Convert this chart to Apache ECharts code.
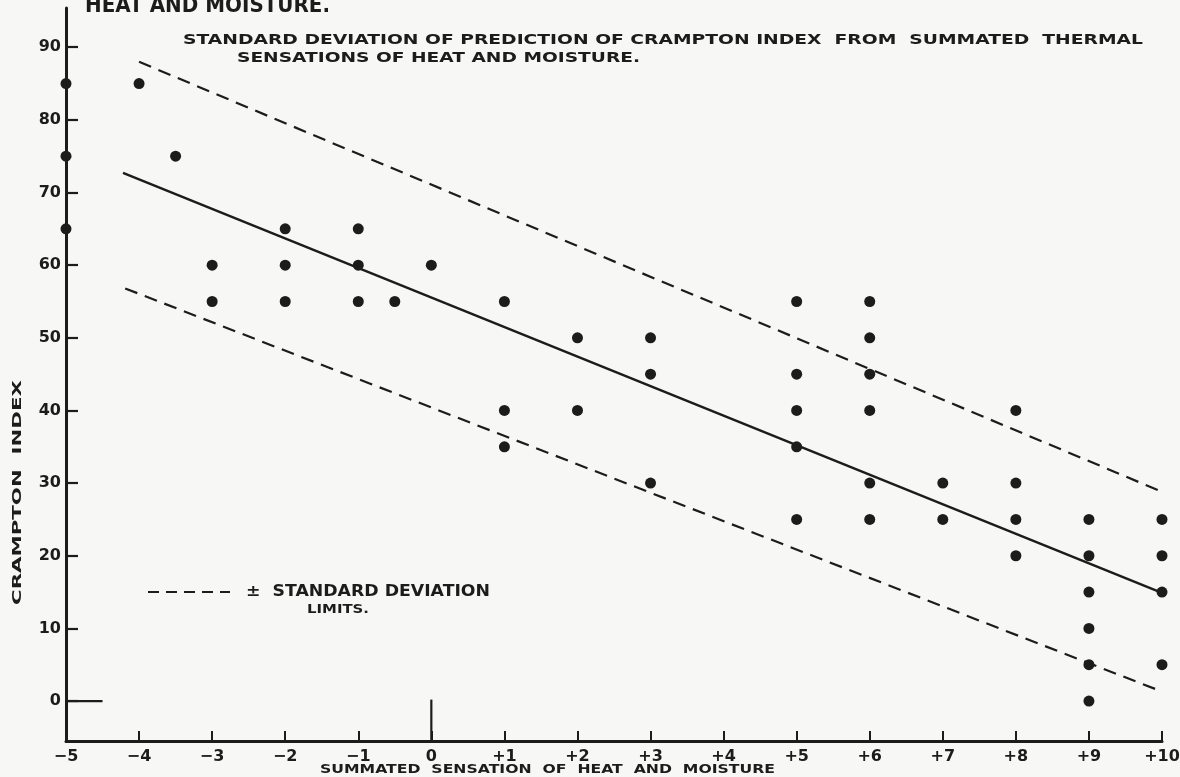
<!DOCTYPE html>
<html><head><meta charset="utf-8">
<script src="https://cdn.jsdelivr.net/npm/echarts@6/dist/echarts.min.js"></script>
<style>html,body{margin:0;padding:0;background:#f7f7f5}#c{width:1180px;height:777px}</style>
</head><body><div id="c"></div>
<script>
// ---- data ----
const xTickValues = [-5,-4,-3,-2,-1,0,1,2,3,4,5,6,7,8,9,10];
const xTickLabels = ['−5','−4','−3','−2','−1','0','+1','+2','+3','+4','+5','+6','+7','+8','+9','+10'];
const yTickValues = [0,10,20,30,40,50,60,70,80,90];
const yTickLabels = ['0','10','20','30','40','50','60','70','80','90'];
const observations = [
  [-5,85],[-5,75],[-5,65],
  [-4,85],[-3.5,75],
  [-3,60],[-3,55],
  [-2,65],[-2,60],[-2,55],
  [-1,65],[-1,60],[-1,55],
  [-0.5,55],[0,60],
  [1,55],[1,40],[1,35],
  [2,50],[2,40],
  [3,50],[3,45],[3,30],
  [5,55],[5,45],[5,40],[5,35],[5,25],
  [6,55],[6,50],[6,45],[6,40],[6,30],[6,25],
  [7,30],[7,25],
  [8,40],[8,30],[8,25],[8,20],
  [9,25],[9,20],[9,15],[9,10],[9,5],[9,0],
  [10,25],[10,20],[10,15],[10,5]
];
const regressionLine = [[-4.22,72.7],[10,14.9]];
const upperLimit = [[-4.0,88.0],[10,28.8]];
const lowerLimit = [[-4.19,56.8],[10,1.3]];
const zeroMarkH = [[-5,0],[-4.5,0]];
const zeroMarkV = [[0,-5.5],[0,0.2]];
const titleText = 'HEAT AND MOISTURE.';
const subtitle1 = 'STANDARD DEVIATION OF PREDICTION OF CRAMPTON INDEX  FROM  SUMMATED  THERMAL';
const subtitle2 = 'SENSATIONS OF HEAT AND MOISTURE.';
const legendText1 = '±  STANDARD DEVIATION';
const legendText2 = 'LIMITS.';
const xName = 'SUMMATED  SENSATION  OF  HEAT  AND  MOISTURE';
const yName = 'CRAMPTON  INDEX';

const ink = '#1c1c1c';
const fontFamily = '"DejaVu Sans"';
const ctx = document.createElement('canvas').getContext('2d');
// text stretched horizontally to span a measured width (lettering in the reference is wide-spaced)
function fitText(text, px, x, y, width, extra) {
  const font = 'bold ' + px + 'px ' + fontFamily;
  ctx.font = font;
  const w = ctx.measureText(text).width;
  return Object.assign({
    type: 'text', x: x, y: y, scaleX: width / w,
    style: {text: text, fill: ink, font: font, align: 'left', verticalAlign: 'middle'}
  }, extra || {});
}

const chart = echarts.init(document.getElementById('c'));
chart.setOption({
  backgroundColor: '#f7f7f5',
  animation: false,
  grid: {left: 66, right: 18, top: 8, bottom: 36, containLabel: false, outerBoundsMode: 'none'},
  xAxis: {
    type: 'value', min: -5, max: 10, interval: 1,
    axisLine: {onZero: false, lineStyle: {color: ink, width: 3}},
    axisTick: {inside: true, length: 10, lineStyle: {color: ink, width: 2}},
    axisLabel: {color: ink, fontFamily: 'DejaVu Sans', fontWeight: 'bold', fontSize: 16, margin: 8,
      formatter: v => xTickLabels[xTickValues.indexOf(v)] || ''},
    splitLine: {show: false}
  },
  yAxis: {
    type: 'value', min: -5.5, max: 95.4,
    axisLine: {show: true, onZero: false, lineStyle: {color: ink, width: 3}},
    axisTick: {show: true, inside: true, length: 12, customValues: yTickValues, lineStyle: {color: ink, width: 2.2}},
    axisLabel: {color: ink, fontFamily: 'DejaVu Sans', fontWeight: 'bold', fontSize: 16, margin: 5, customValues: yTickValues,
      formatter: v => yTickLabels[yTickValues.indexOf(v)] || ''},
    splitLine: {show: false}
  },
  series: [
    {type: 'scatter', data: observations, symbolSize: 11, clip: false, itemStyle: {color: ink, opacity: 1}, z: 5},
    {type: 'line', data: regressionLine, symbol: 'none', lineStyle: {color: ink, width: 2.4}},
    {type: 'line', data: upperLimit, symbol: 'none', lineStyle: {color: ink, width: 2.2, type: [13, 8]}},
    {type: 'line', data: lowerLimit, symbol: 'none', lineStyle: {color: ink, width: 2.2, type: [13, 8]}},
    {type: 'line', data: zeroMarkH, symbol: 'none', clip: false, lineStyle: {color: ink, width: 2.2}},
    {type: 'line', data: zeroMarkV, symbol: 'none', clip: false, lineStyle: {color: ink, width: 2.2}}
  ],
  graphic: [
    fitText(titleText, 22, 85, 6, 245),
    fitText(subtitle1, 14, 183, 40, 960),
    fitText(subtitle2, 14, 237, 58, 403),
    {type: 'line', shape: {x1: 148, y1: 592, x2: 230, y2: 592}, style: {stroke: ink, lineWidth: 2.2, lineDash: [11, 7]}},
    fitText(legendText1, 15, 246, 592, 244),
    fitText(legendText2, 12, 307, 610, 62),
    fitText(xName, 13, 320, 770, 455),
    fitText(yName, 13, 18, 605, 225, {rotation: Math.PI / 2})
  ]
});
</script></body></html>
